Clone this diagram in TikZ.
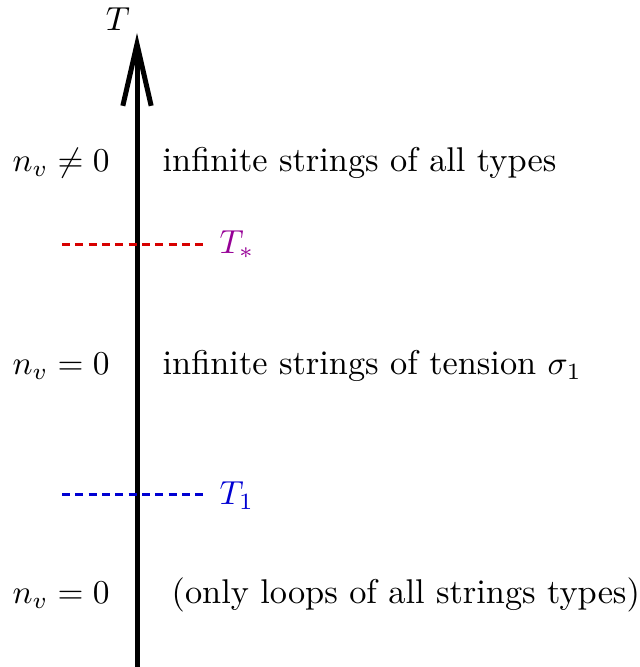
\documentclass[tikz,border=0pt]{standalone}
\usetikzlibrary{arrows.meta}
\definecolor{dred}{RGB}{215,0,0}
\definecolor{dblue}{RGB}{0,0,210}
\definecolor{dpurple}{RGB}{150,0,150}
\begin{document}
\begin{tikzpicture}[x=0.3pt,y=-0.3pt,
  every node/.style={font=\fontsize{10.3}{12.4}\selectfont},
  lbl/.style={inner sep=0pt,anchor=base west},
  lblr/.style={inner sep=0pt,anchor=base},
  dashline/.style={line width=0.9pt,dash pattern=on 2.4pt off 1.6pt},
  axis/.style={line width=1.5pt,-{Straight Barb[length=18.5pt,width=8.5pt,line width=1.5pt]}}]
\useasboundingbox (0,0) rectangle (640,667);
\coordinate (bot) at (137,667);
\coordinate (top) at (137,33);
\draw[axis] (bot) -- (top);
\node[lblr] (tl) at (118,31) {$T$};
\node[lblr] (n1) at (61,172) {$n_v\neq 0$};
\node[lbl] (t1) at (162,172) {infinite strings of all types};
\coordinate (r1) at (62,245);
\coordinate (r2) at (203,245);
\draw[dashline,dred] (r1) -- (r2);
\node[lbl,text=dpurple] (ts) at (219,254) {$T_*$};
\node[lblr] (n2) at (61,375) {$n_v=0$};
\node[lbl] (t2) at (162,375) {infinite strings of tension $\sigma_1$};
\coordinate (b1) at (62,494);
\coordinate (b2) at (203,494);
\draw[dashline,dblue] (b1) -- (b2);
\node[lbl,text=dblue] (t1b) at (219,504) {$T_1$};
\node[lblr] (n3) at (61,603) {$n_v=0$};
\node[lbl] (t3) at (171,603) {(only loops of all strings types)};
\end{tikzpicture}
\end{document}
